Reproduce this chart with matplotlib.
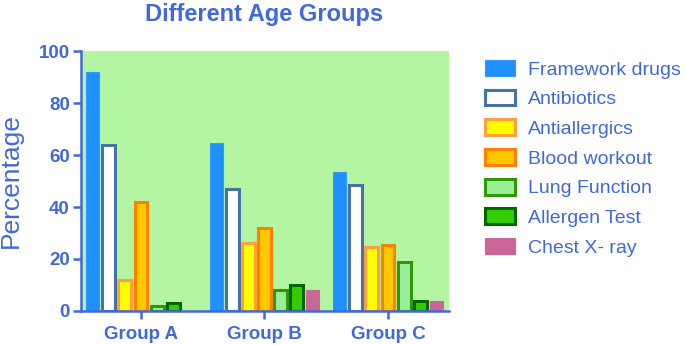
import matplotlib
matplotlib.use("Agg")
import matplotlib.pyplot as plt
import numpy as np

plt.rcParams['font.family'] = ['Liberation Sans', 'DejaVu Sans']

groups = ["Group A", "Group B", "Group C"]
series = ["Framework drugs", "Antibiotics", "Antiallergics", "Blood workout",
          "Lung Function", "Allergen Test", "Chest X- ray"]
framework = [92, 64.5, 53.5]
antibiotics = [64, 47, 48.5]
antiallergics = [12, 26, 24.5]
blood = [42, 32, 25.5]
lung = [2, 8, 19]
allergen = [3, 10, 4]
chest = [0, 8, 4]
values = [framework, antibiotics, antiallergics, blood, lung, allergen, chest]

fills = ["#1E90FF", "#FFFFFF", "#FFFF00", "#FFC800", "#99EE99", "#33CC00", "#CC6699"]
edges = ["#3399FF", "#4672A8", "#FFA040", "#FF8000", "#2E9900", "#006600", "#CC6699"]
lws = [0.8, 2.2, 2.2, 2.2, 2.2, 2.2, 0.8]

blue = "#4169D8"
fig = plt.figure(figsize=(6.85, 3.45), dpi=100)
ax = fig.add_axes([0.1182, 0.0986, 0.5373, 0.7534])
ax.set_facecolor("#B4F5A2")

x = np.arange(len(groups))
step = 0.13
width = 0.105
for i, (vals, fc, ec, lw) in enumerate(zip(values, fills, edges, lws)):
    ax.bar(x + (i - 3) * step, vals, width=width, facecolor=fc, edgecolor=ec,
           linewidth=lw, label=series[i])

ax.set_xlim(-0.486, 2.494)
ax.set_ylim(0, 100)
ax.set_yticks([0, 20, 40, 60, 80, 100])
ax.set_xticks(x)
ax.set_xticklabels(groups)
for s in ["top", "right"]:
    ax.spines[s].set_visible(False)
for s in ["left", "bottom"]:
    ax.spines[s].set_color(blue)
    ax.spines[s].set_linewidth(1.8)
ax.tick_params(axis='y', colors=blue, width=1.8, length=6, labelsize=13.5, pad=2)
ax.tick_params(axis='x', colors=blue, width=1.8, length=6, labelsize=13.5, pad=5)
for lab in ax.get_xticklabels() + ax.get_yticklabels():
    lab.set_fontweight('bold')
    lab.set_color(blue)

ax.set_ylabel("Percentage", fontsize=19, color=blue)
ax.yaxis.set_label_coords(-0.158, 0.5)
fig.text(0.385, 1 - 14 / 345, "Different Age Groups", fontsize=17, fontweight='bold',
         color=blue, ha='center', va='center')

leg = fig.legend(loc='upper left', bbox_to_anchor=(485 / 685, 1 - 60 / 345), frameon=False,
                 fontsize=14, handlelength=1.54, handleheight=0.87, labelspacing=0.57,
                 handletextpad=0.67, borderpad=0, borderaxespad=0)
for t in leg.get_texts():
    t.set_color(blue)

fig.savefig("out.png", dpi=100)
